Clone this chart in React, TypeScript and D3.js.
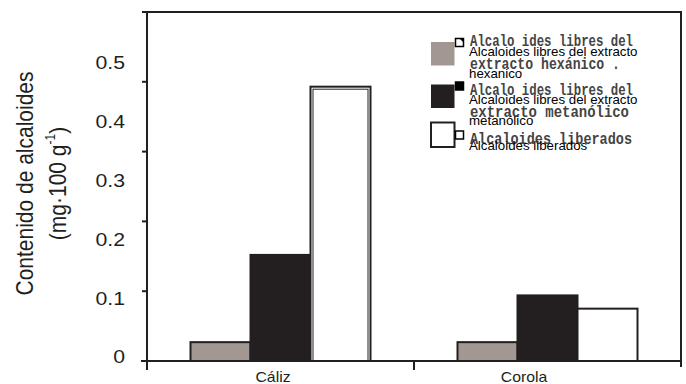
import React from "react";
import * as d3 from "d3";

// Categories and series
const categories = ["Cáliz", "Corola"];
const seriesKeys = ["hexanico", "metanolico", "liberados"];
const hexanicoValues = [0.027, 0.027];
const metanolicoValues = [0.152, 0.094];
const liberadosValues = [0.393, 0.075];
const yTickValues = [0, 0.1, 0.2, 0.3, 0.4, 0.5];
const yTickLabels = ["0", "0.1", "0.2", "0.3", "0.4", "0.5"];

// Legend text: scanned (typewriter) line plus the typed overlay
const legendScanned = [
  ["Alcalo ides libres del", "extracto hexánico ."],
  ["Alcalo ides libres del", "extracto metanólico"],
  ["Alcaloides liberados"],
];
const legendTyped = [
  ["Alcaloides libres del extracto", "hexanico"],
  ["Alcaloides libres del extracto", "metanólico"],
  ["Alcaloides liberados"],
];

const W = 686;
const H = 384;
const INK = "#231f20";
const FILL: Record<string, string> = {
  hexanico: "#a39793",
  metanolico: "#231f20",
  liberados: "#ffffff",
};
const SANS = "Arial, 'Liberation Sans', sans-serif";

export default function App() {
  const valuesBy: Record<string, number[]> = {
    hexanico: hexanicoValues,
    metanolico: metanolicoValues,
    liberados: liberadosValues,
  };

  const left = 147, right = 681, top = 12, bottom = 361;
  const x = d3.scaleBand<string>().domain(categories).range([left, right]);
  const groupW = 180;
  const inner = d3.scaleBand<string>().domain(seriesKeys).range([0, groupW]);
  const y = d3.scaleLinear().domain([0, 0.5]).range([bottom, top]);
  // tick labels sit on their own, slightly tighter spacing
  const yLab = d3.scaleLinear().domain([0, 0.5]).range([357, 63]);
  const xLab = d3.scaleBand<string>().domain(categories).range([147.5, 649.5]);

  const bars = categories.flatMap((c, ci) =>
    seriesKeys.map((k) => ({ c, k, v: valuesBy[k][ci] }))
  );

  const legendY = [42, 84.5, 122.5];
  const scannedY = [[46, 69], [95, 117], [144]];
  const scannedLen = [[163, 150], [163, 159], [162]];
  const typedY = [[56, 78], [104, 125], [150]];

  return (
    <svg
      width={W}
      height={H}
      style={{ position: "absolute", left: 0, top: 0, background: "#fff" }}
    >
      {/* bars */}
      {bars.map((b, i) => {
        const x0 = (x(b.c) as number) + (x.bandwidth() - groupW) / 2 + (inner(b.k) as number);
        const h = bottom - y(b.v);
        return (
          <g key={i}>
            <rect
              x={x0}
              y={y(b.v)}
              width={inner.bandwidth()}
              height={h}
              fill={FILL[b.k]}
              stroke={INK}
              strokeWidth={2}
            />
            {b.k === "liberados" && h > 200 && (
              <rect
                x={x0 + 2.5}
                y={y(b.v) + 2.5}
                width={inner.bandwidth() - 5}
                height={h - 2.5}
                fill="none"
                stroke={INK}
                strokeWidth={1}
              />
            )}
          </g>
        );
      })}

      {/* frame */}
      <g stroke={INK} strokeWidth={2} fill="none">
        <line x1={left} x2={left} y1={top - 1} y2={370} />
        <line x1={142} x2={right + 1} y1={top} y2={top} />
        <line x1={right} x2={right} y1={top} y2={367} />
        <line x1={141} x2={right + 1} y1={bottom} y2={bottom} />
        {yTickValues.map((t) => (
          <line key={t} x1={142} x2={left} y1={y(t)} y2={y(t)} />
        ))}
        {categories.slice(1).map((c) => (
          <line key={c} x1={x(c) as number} x2={x(c) as number} y1={bottom} y2={370} />
        ))}
      </g>

      {/* y tick labels */}
      {yTickValues.map((t, i) => (
        <text
          key={t}
          transform={`translate(125,${yLab(t)}) scale(1.18,1)`}
          dy="0.35em"
          textAnchor="end"
          fontFamily={SANS}
          fontSize={18}
          fill={INK}
        >
          {yTickLabels[i]}
        </text>
      ))}

      {/* category labels */}
      {categories.map((c) => (
        <text
          key={c}
          transform={`translate(${(xLab(c) as number) + xLab.bandwidth() / 2},381.5) scale(1.13,1)`}
          textAnchor="middle"
          fontFamily={SANS}
          fontSize={14}
          fill={INK}
        >
          {c}
        </text>
      ))}

      {/* y axis title */}
      <g fontFamily={SANS} fill={INK} textAnchor="middle">
        <text transform="translate(33,183.5) scale(1.18,1) rotate(-90)" fontSize={21}>
          Contenido de alcaloides
        </text>
        <text transform="translate(66,183.5) scale(1.18,1) rotate(-90)" fontSize={21}>
          (mg·100 g
          <tspan fontSize={12} dy={-9}>-1</tspan>
          <tspan dy={9}>)</tspan>
        </text>
      </g>

      {/* legend */}
      {seriesKeys.map((k, i) => (
        <g key={k}>
          <rect
            x={431}
            y={legendY[i]}
            width={23.5}
            height={i === 2 ? 24.5 : 23.5}
            fill={FILL[k]}
            stroke={k === "liberados" ? INK : "none"}
            strokeWidth={2}
          />
          {/* small marker from the scanned legend */}
          <rect
            x={455.5}
            y={[38.5, 82, 131][i]}
            width={8}
            height={8}
            fill={k === "metanolico" ? "#000" : "#fff"}
            stroke="#000"
            strokeWidth={1.5}
          />
          {k === "hexanico" && (
            <path d="M459.5,38.5 h4 v4 z" fill="#000" />
          )}
          {legendScanned[i].map((s, j) => (
            <text
              key={"s" + j}
              x={470}
              y={scannedY[i][j]}
              fontFamily="'Liberation Mono', 'DejaVu Sans Mono', monospace"
              fontWeight="bold"
              fontSize={17}
              fill="#444"
              textLength={scannedLen[i][j]}
              lengthAdjust="spacingAndGlyphs"
            >
              {s}
            </text>
          ))}
          {legendTyped[i].map((s, j) => (
            <text
              key={"t" + j}
              x={469}
              y={typedY[i][j]}
              fontFamily={SANS}
              fontSize={13.3}
              fill="#000"
            >
              {s}
            </text>
          ))}
        </g>
      ))}
    </svg>
  );
}
